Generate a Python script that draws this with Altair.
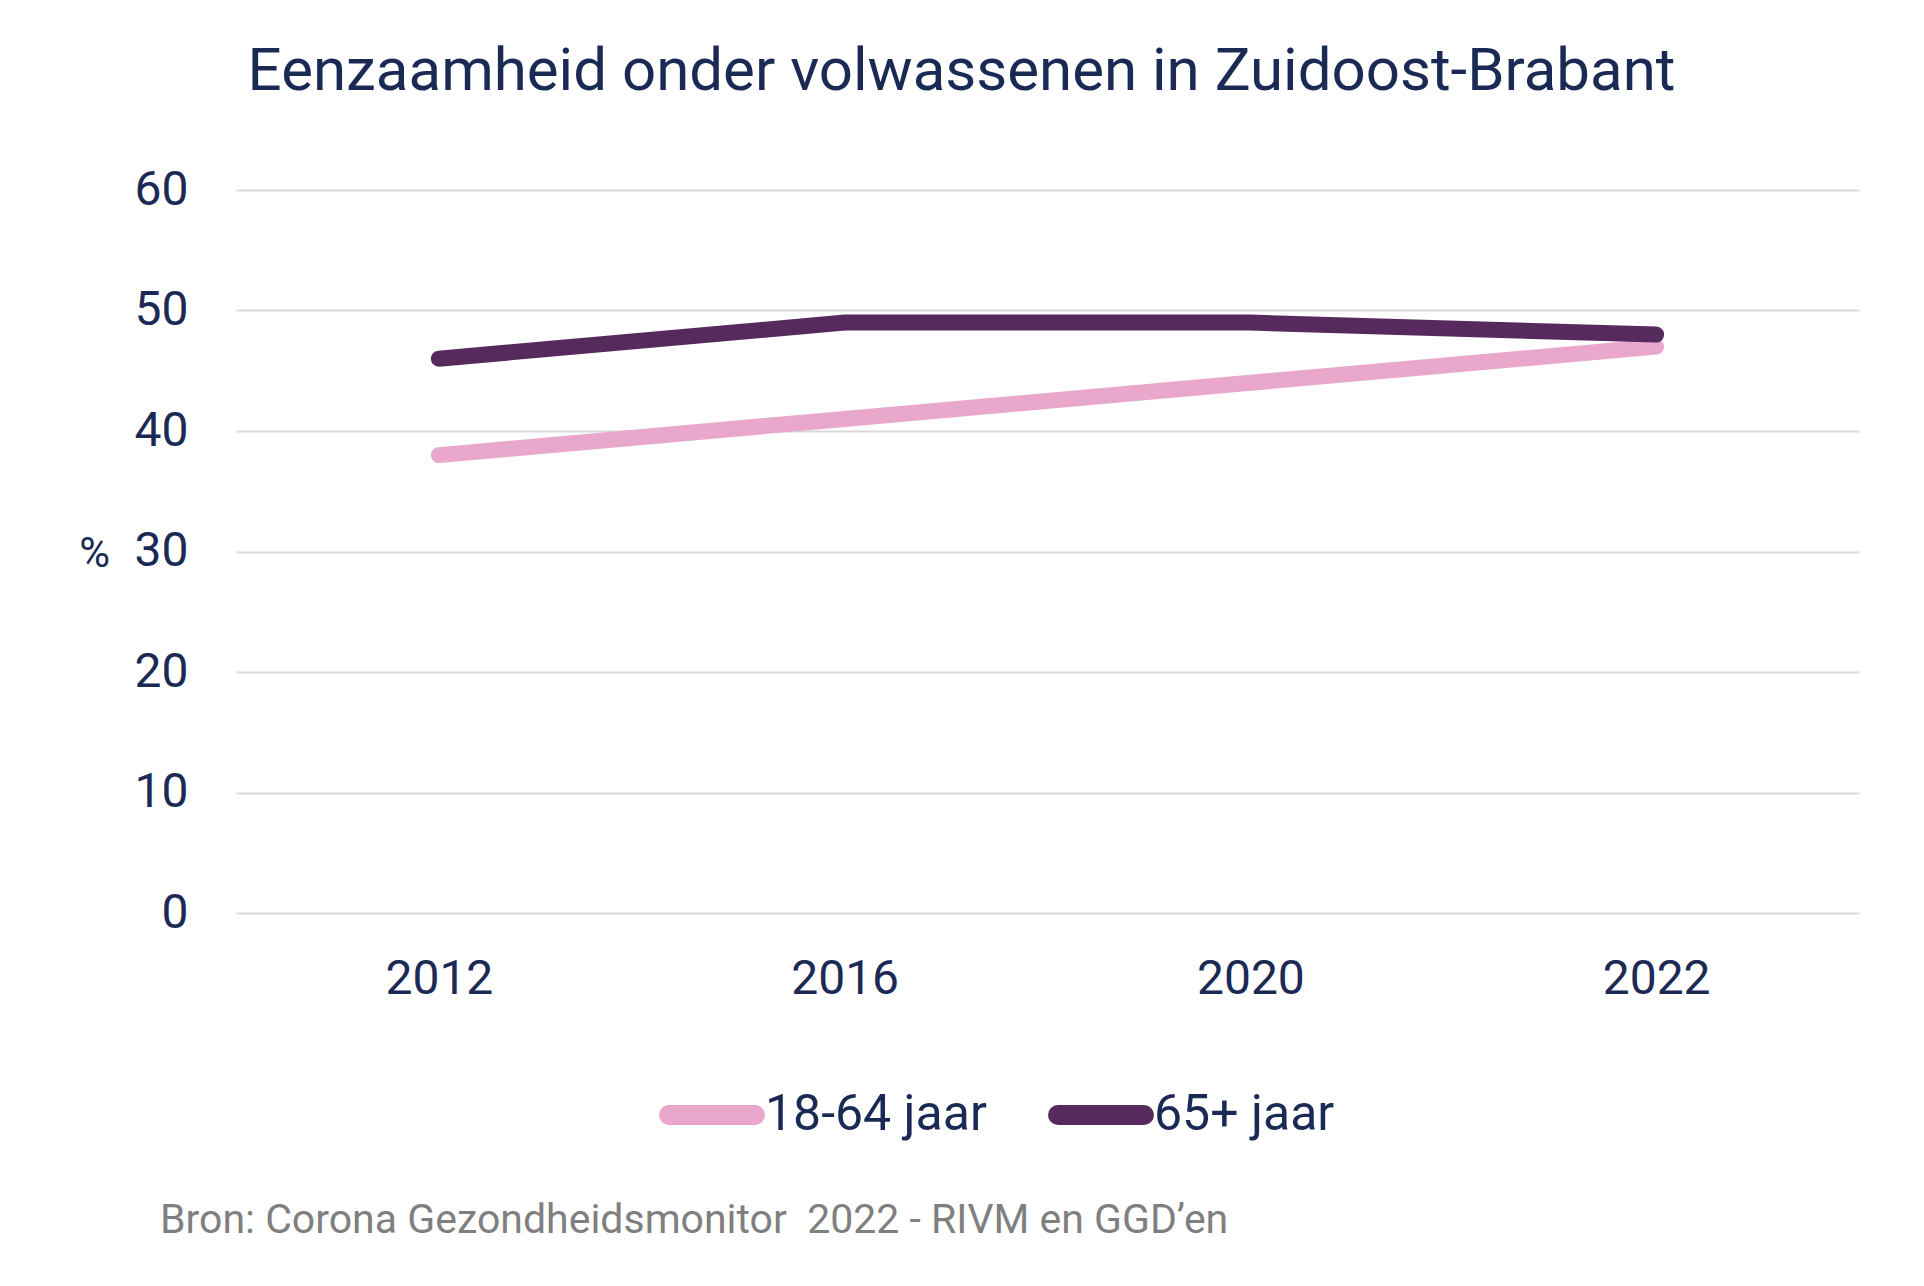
import altair as alt
import pandas as pd

years = ["2012", "2016", "2020", "2022"]
age_18_64 = [38, 41, 44, 47]
age_65_plus = [46, 49, 49, 48]
series_names = ["18-64 jaar", "65+ jaar"]
series_colors = ["#E8A7CB", "#572A5E"]
y_ticks = [0, 10, 20, 30, 40, 50, 60]
title_text = "Eenzaamheid onder volwassenen in Zuidoost-Brabant"
source_text = "Bron: Corona Gezondheidsmonitor \u00a02022 - RIVM en GGD\u2019en"

NAVY = "#1B2A55"
FONT = "Roboto"

rows = []
for name, vals in zip(series_names, [age_18_64, age_65_plus]):
    for yr, v in zip(years, vals):
        rows.append({"jaar": yr, "waarde": v, "groep": name})
df = pd.DataFrame(rows)
src_df = pd.DataFrame({"t": [source_text]})

# rounded bar legend symbol, shifted slightly right so the label sits close to it
pill = "M-0.74,-0.02 H0.98 A0.02,0.02 0 0 1 0.98,0.02 H-0.74 A0.02,0.02 0 0 1 -0.74,-0.02 Z"

lines = alt.Chart(df).mark_line(strokeWidth=16, strokeCap="round").encode(
    x=alt.X("jaar:N", sort=years,
            axis=alt.Axis(title=None, labelAngle=0, labelFontSize=48, labelColor=NAVY,
                          labelFont=FONT, labelPadding=42, domain=False, ticks=False, grid=False)),
    y=alt.Y("waarde:Q", scale=alt.Scale(domain=[0, 60], nice=False),
            axis=alt.Axis(title="%", titleAngle=0, titleFontSize=42, titleFont=FONT,
                          titleColor=NAVY, titleFontWeight="normal", titleX=-142, titleY=363,
                          titleAlign="center", titleBaseline="middle",
                          values=y_ticks, labelFontSize=48, labelColor=NAVY, labelFont=FONT,
                          labelPadding=48, domain=False, ticks=False,
                          gridColor="#D9D9D9", gridWidth=2)),
    color=alt.Color("groep:N", sort=series_names,
                    scale=alt.Scale(domain=series_names, range=series_colors),
                    legend=alt.Legend(title=None, orient="none", legendX=411, legendY=866,
                                      direction="horizontal", columns=2,
                                      symbolType=pill, symbolSize=10000, symbolStrokeWidth=18,
                                      labelFontSize=50, labelColor=NAVY, labelFont=FONT,
                                      labelLimit=0, labelOffset=0, columnPadding=34)),
)

source = alt.Chart(src_df).mark_text(
    align="left", baseline="alphabetic", fontSize=41, font=FONT, color="#7F7F7F"
).encode(x=alt.value(-76), y=alt.value(1043), text="t:N")

chart = alt.layer(lines, source).properties(
    width=1623, height=723,
    autosize=alt.AutoSizeParams(type="none"),
    padding={"left": 228, "top": 182, "right": 57, "bottom": 350},
    title=alt.TitleParams(title_text, fontSize=60, font=FONT, color=NAVY, fontWeight="normal",
                          anchor="middle", dx=-86, offset=16, baseline="alphabetic"),
).configure_view(stroke=None)

chart.save("out.html", embed_options={"renderer": "svg", "actions": False})
